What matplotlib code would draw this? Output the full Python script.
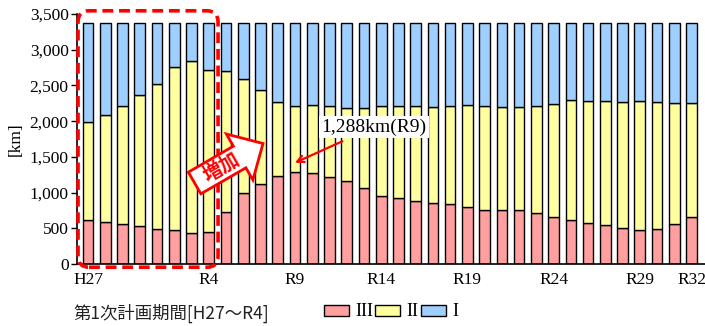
import matplotlib.pyplot as plt
import numpy as np
from matplotlib.patches import FancyBboxPatch, Polygon
from matplotlib.transforms import ScaledTranslation

# DATA ########################################################################

years = ["H27", "H28", "H29", "H30", "R1", "R2", "R3", "R4"] + \
        ["R%d" % i for i in range(5, 33)]
tick_labels = ["H27", "R4", "R9", "R14", "R19", "R24", "R29", "R32"]

class3 = [616, 583, 560, 527, 495, 471, 439, 448, 733, 989, 1125, 1232, 1288,
          1279, 1223, 1167, 1069, 947, 919, 887, 849, 840, 798, 761, 761, 756,
          719, 663, 611, 574, 546, 509, 476, 495, 565, 658]
class2 = [1372, 1503, 1652, 1834, 2030, 2287, 2398, 2273, 1969, 1596, 1311,
          1041, 919, 942, 984, 1022, 1120, 1260, 1288, 1320, 1349, 1377, 1428,
          1451, 1442, 1447, 1493, 1572, 1680, 1703, 1736, 1764, 1806, 1768,
          1689, 1591]
class1 = [1392, 1294, 1168, 1019, 855, 622, 543, 659, 678, 795, 944, 1107,
          1173, 1159, 1173, 1191, 1191, 1173, 1173, 1173, 1182, 1163, 1154,
          1168, 1177, 1177, 1168, 1145, 1089, 1103, 1098, 1107, 1098, 1117,
          1126, 1131]

plan1_label = "第1次計画期間[H27～R4]"

# PLOT ########################################################################

plt.rcParams['font.family'] = ['Liberation Serif', 'DejaVu Serif']

fig = plt.figure(figsize=(7.05, 3.26), dpi=100)
ax = fig.add_axes([77 / 705, 62 / 326, 628 / 705, 250 / 326])

x = np.arange(len(years))
c3 = np.array(class3)
c2 = np.array(class2)
c1 = np.array(class1)

kw = dict(width=0.62, edgecolor='black', linewidth=1.0)
b3 = ax.bar(x, c3, color='#ff9f9f', label='III', **kw)
b2 = ax.bar(x, c2, bottom=c3, color='#ffff9f', label='II', **kw)
b1 = ax.bar(x, c1, bottom=c3 + c2, color='#9fcfff', label='I', **kw)

ax.set_xlim(-0.64, len(years) - 1 + 0.78)
ax.set_ylim(0, 3500)
ax.set_yticks(np.arange(0, 3501, 500))
ax.set_yticklabels(["{:,}".format(v) for v in range(0, 3501, 500)], fontsize=12.5)
ax.set_xticks([years.index(t) for t in tick_labels])
ax.set_xticklabels(tick_labels, fontsize=12.5)
ax.tick_params(axis='x', length=0, pad=6)
ax.tick_params(axis='y', length=4, width=1, pad=2)
ax.spines['top'].set_visible(False)
ax.spines['right'].set_visible(False)
for s in ['left', 'bottom']:
    ax.spines[s].set_linewidth(1.2)
ax.set_ylabel("[km]", fontsize=12.5, labelpad=4)

# dashed box around the first plan period
px_x = (len(years) - 1 + 0.78 + 0.64) / 628.0   # data units per pixel (x)
px_y = 3500 / 250.0                              # data units per pixel (y)
box = FancyBboxPatch((-0.58, -45), 8.12, 3590,
                     boxstyle="round,pad=0,rounding_size=%f" % (11 * px_x),
                     mutation_aspect=px_y / px_x,
                     fill=False, edgecolor='#ff0000', linewidth=2.6,
                     linestyle=(0, (3, 1.6)), clip_on=False, zorder=5)
ax.add_patch(box)

# "increase" block arrow (shape in pixels, anchored at its tail in data coords)
ang = np.deg2rad(30)
shape = np.array([(0, -12.5), (52, -12.5), (52, -26.5), (79, 0),
                  (52, 26.5), (52, 12.5), (0, 12.5)])
rot = np.array([[np.cos(ang), -np.sin(ang)], [np.sin(ang), np.cos(ang)]])
verts = shape @ rot.T / 100.0
tail = (6.18, 1134)
trans = fig.dpi_scale_trans + ScaledTranslation(tail[0], tail[1], ax.transData)
ax.add_patch(Polygon(verts, closed=True, fc='white', ec='#ff0000', lw=2.0,
                     transform=trans, clip_on=False, zorder=6))
tc = np.array([31, 0]) @ rot.T / 100.0
ax.text(tc[0], tc[1], "増加", rotation=30, fontsize=14, color='#ff0000',
        fontweight='bold', family=['Noto Sans CJK JP'], ha='center', va='center',
        rotation_mode='anchor', transform=trans, zorder=7)

# peak annotation
i9 = years.index("R9")
ax.annotate("{:,}km(R9)".format(class3[i9]), xy=(i9, class3[i9] + 130),
            xytext=(16.6, 1920), fontsize=14, ha='center', va='center',
            bbox=dict(boxstyle="square,pad=0.12", fc='white', ec='none'),
            arrowprops=dict(arrowstyle='->', color='#ff0000', lw=1.6,
                            shrinkA=6, shrinkB=0, mutation_scale=12),
            zorder=6)

fig.legend(handles=[b3, b2, b1], loc='center', bbox_to_anchor=(391 / 705, 1 - 312 / 326),
           ncol=3, frameon=False, fontsize=13, handlelength=1.4, handleheight=0.55,
           handletextpad=0.35, columnspacing=0.1)

fig.text(73 / 705, 1 - 313 / 326, plan1_label, fontsize=12.5, va='center', ha='left',
         family=['Noto Sans CJK JP'], color='#222222')

plt.savefig("out.png", dpi=100)
